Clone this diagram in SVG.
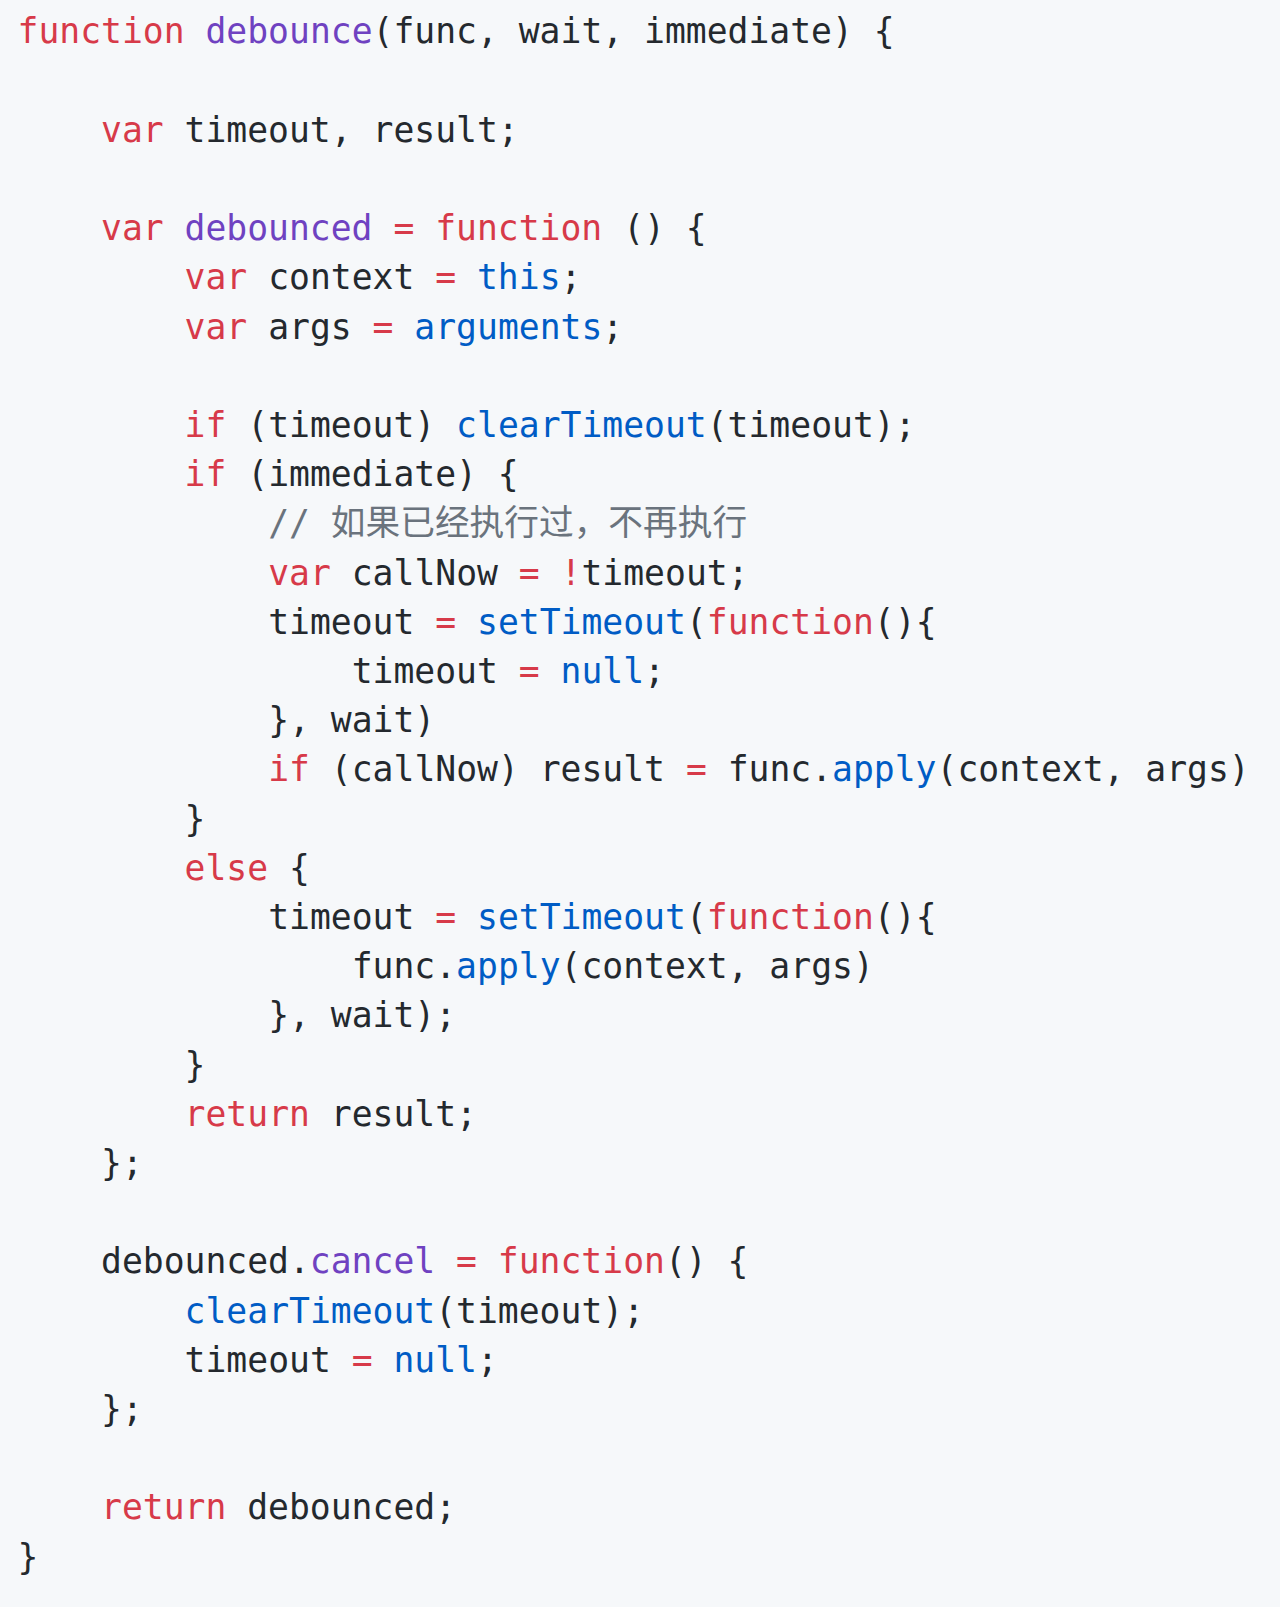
<svg xmlns="http://www.w3.org/2000/svg" width="1280" height="1607" viewBox="0 0 1280 1607">
<style>
text{font-family:"DejaVu Sans Mono","Noto Sans CJK SC",monospace;font-size:34.7px;fill:#24292e;white-space:pre}
.k{fill:#d73a49}.f{fill:#6f42c1}.c{fill:#005cc5}.cm{fill:#6a737d}
</style>
<rect x="0" y="0" width="1280" height="1607" fill="#f6f8fa"/>
<g id="code" xml:space="preserve">
<text x="17.5" y="43.3"><tspan class="k">function</tspan> <tspan class="f">debounce</tspan>(func, wait, immediate) {</text>
<text x="101" y="141.7"><tspan class="k">var</tspan> timeout, result;</text>
<text x="101" y="240.1"><tspan class="k">var</tspan> <tspan class="f">debounced</tspan> <tspan class="k">=</tspan> <tspan class="k">function</tspan> () {</text>
<text x="184.6" y="289.3"><tspan class="k">var</tspan> context <tspan class="k">=</tspan> <tspan class="c">this</tspan>;</text>
<text x="184.6" y="338.5"><tspan class="k">var</tspan> args <tspan class="k">=</tspan> <tspan class="c">arguments</tspan>;</text>
<text x="184.6" y="436.9"><tspan class="k">if</tspan> (timeout) <tspan class="c">clearTimeout</tspan>(timeout);</text>
<text x="184.6" y="486.1"><tspan class="k">if</tspan> (immediate) {</text>
<text x="268.2" y="535.3" class="cm">// 如果已经执行过，不再执行</text>
<text x="268.2" y="584.5"><tspan class="k">var</tspan> callNow <tspan class="k">=</tspan> <tspan class="k">!</tspan>timeout;</text>
<text x="268.2" y="633.7">timeout <tspan class="k">=</tspan> <tspan class="c">setTimeout</tspan>(<tspan class="k">function</tspan>(){</text>
<text x="351.7" y="682.9">timeout <tspan class="k">=</tspan> <tspan class="c">null</tspan>;</text>
<text x="268.2" y="732.1">}, wait)</text>
<text x="268.2" y="781.3"><tspan class="k">if</tspan> (callNow) result <tspan class="k">=</tspan> func.<tspan class="c">apply</tspan>(context, args)</text>
<text x="184.6" y="830.5">}</text>
<text x="184.6" y="879.7"><tspan class="k">else</tspan> {</text>
<text x="268.2" y="928.9">timeout <tspan class="k">=</tspan> <tspan class="c">setTimeout</tspan>(<tspan class="k">function</tspan>(){</text>
<text x="351.7" y="978.1">func.<tspan class="c">apply</tspan>(context, args)</text>
<text x="268.2" y="1027.3">}, wait);</text>
<text x="184.6" y="1076.5">}</text>
<text x="184.6" y="1125.7"><tspan class="k">return</tspan> result;</text>
<text x="101" y="1174.9">};</text>
<text x="101" y="1273.3">debounced.<tspan class="f">cancel</tspan> <tspan class="k">=</tspan> <tspan class="k">function</tspan>() {</text>
<text x="184.6" y="1322.5"><tspan class="c">clearTimeout</tspan>(timeout);</text>
<text x="184.6" y="1371.7">timeout <tspan class="k">=</tspan> <tspan class="c">null</tspan>;</text>
<text x="101" y="1420.9">};</text>
<text x="101" y="1519.3"><tspan class="k">return</tspan> debounced;</text>
<text x="17.5" y="1568.5">}</text>
</g>
</svg>
